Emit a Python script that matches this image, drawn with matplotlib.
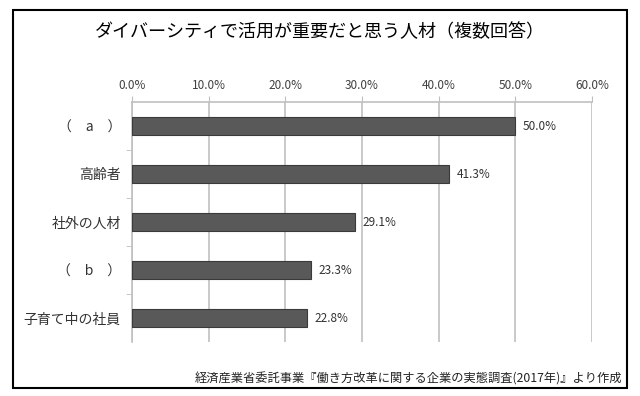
import matplotlib
matplotlib.use('Agg')
import matplotlib.pyplot as plt
from matplotlib.patches import Rectangle
from matplotlib.ticker import FixedLocator

plt.rcParams['font.family'] = ['Noto Sans CJK JP', 'DejaVu Sans']

categories = ['（　a　）', '高齢者', '社外の人材', '（　b　）', '子育て中の社員']
values = [50.0, 41.3, 29.1, 23.3, 22.8]
ticks = [0, 10, 20, 30, 40, 50, 60]
tick_labels = ['0.0%', '10.0%', '20.0%', '30.0%', '40.0%', '50.0%', '60.0%']
title = 'ダイバーシティで活用が重要だと思う人材（複数回答）'
source = '経済産業省委託事業『働き方改革に関する企業の実態調査(2017年)』より作成'

W, H = 640, 396
fig = plt.figure(figsize=(W / 100, H / 100), dpi=100)
ax = fig.add_axes([132 / W, 1 - 342 / H, (592 - 132) / W, (342 - 102) / H])

y = list(range(len(categories)))
ax.barh(y, values, height=0.375, color='#595959', edgecolor='#3a3a3a', linewidth=0.8, zorder=3)
for yi, v in zip(y, values):
    ax.text(v + 1.0, yi, f'{v:.1f}%', va='center', ha='left', fontsize=8.5, color='#333333')

ax.set_xlim(0, 60)
ax.set_ylim(len(categories) - 0.5, -0.5)
ax.xaxis.tick_top()
ax.set_xticks(ticks)
ax.set_xticklabels(tick_labels, fontsize=8.5, color='#404040')
ax.tick_params(axis='x', length=4, color='#bfbfbf', pad=3)
ax.grid(axis='x', color='#c0c0c0', linewidth=1.2, zorder=0)

ax.set_yticks(y)
ax.set_yticklabels(categories, fontsize=10, color='#333333')
ax.tick_params(axis='y', which='major', length=0, pad=8)
ax.yaxis.set_minor_locator(FixedLocator([i + 0.5 for i in range(len(categories) - 1)]))
ax.tick_params(axis='y', which='minor', length=4, color='#bfbfbf')

for s in ['right', 'bottom']:
    ax.spines[s].set_visible(False)
ax.spines['top'].set_color('#c0c0c0')
ax.spines['top'].set_linewidth(1.2)
ax.spines['left'].set_color('#c0c0c0')
ax.spines['left'].set_linewidth(1.2)

fig.text(320 / W, 1 - 32 / H, title, ha='center', va='center', fontsize=13, color='black')
fig.text(622 / W, 1 - 379 / H, source, ha='right', va='center', fontsize=8.8, color='#222222')

fig.patches.append(Rectangle((12.5 / W, 1 - 388 / H), (627 - 12.5) / W, (388 - 10) / H,
                             transform=fig.transFigure, fill=False, edgecolor='black', linewidth=1.5))

plt.savefig('out.png', dpi=100)
